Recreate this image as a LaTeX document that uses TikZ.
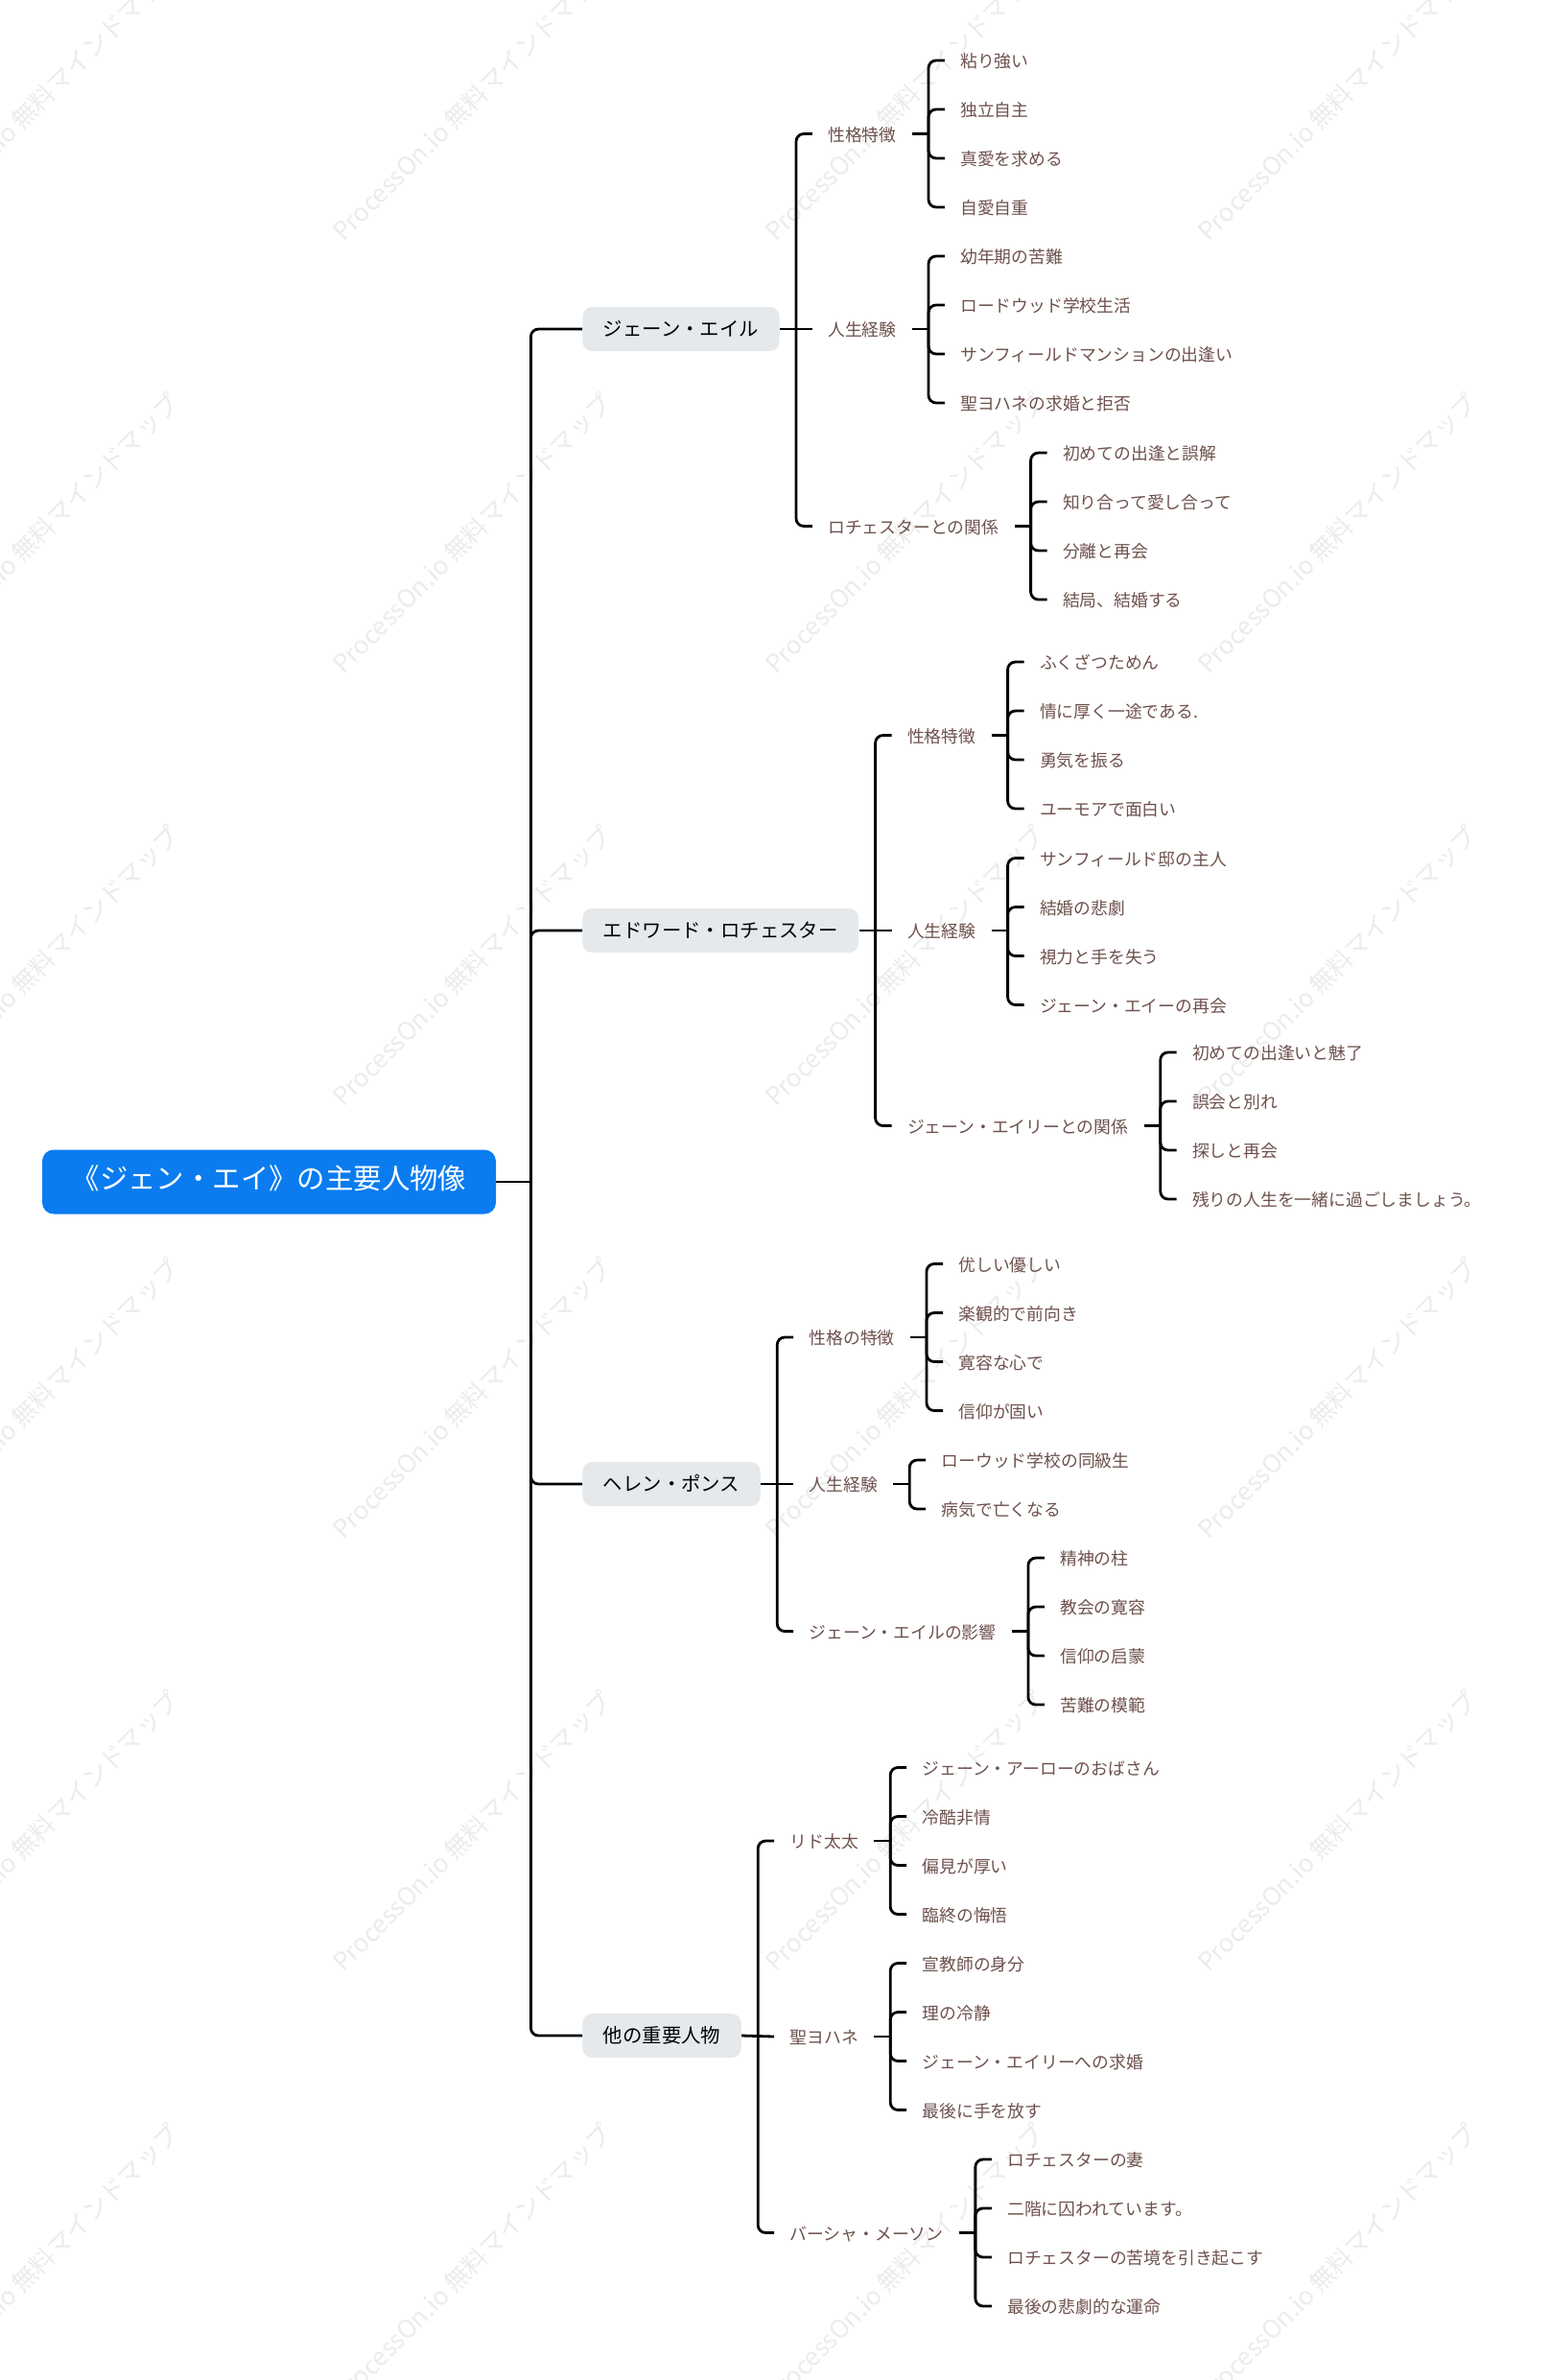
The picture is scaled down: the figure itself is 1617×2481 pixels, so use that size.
\documentclass[tikz,border=0pt]{standalone}
\usepackage{fontspec}
\setmainfont{Noto Sans CJK JP}
\usetikzlibrary{calc}
\definecolor{rootblue}{RGB}{10,124,240}
\definecolor{boxgray}{RGB}{230,233,236}
\definecolor{leafbrown}{RGB}{110,81,77}
\definecolor{wmgray}{RGB}{236,236,236}
\tikzset{
 rootnode/.style={fill=rootblue, rounded corners=6pt, text=white, font=\fontsize{14.7pt}{16pt}\selectfont, minimum width=236.5pt, minimum height=33.5pt, inner sep=0pt, text height=0.88em, text depth=0.12em},
 topicnode/.style={fill=boxgray, rounded corners=5pt, text=black, font=\fontsize{10.2pt}{12pt}\selectfont, minimum height=23pt, inner xsep=10.75pt, inner ysep=0pt, text height=0.88em, text depth=0.12em, anchor=west},
 leafnode/.style={text=leafbrown, font=\fontsize{8.9pt}{10pt}\selectfont, inner xsep=8pt, inner ysep=2pt, text height=0.88em, text depth=0.12em, anchor=west},
 conn/.style={draw=black, line width=1.4pt, rounded corners=4pt},
 wm/.style={text=wmgray, font=\fontsize{13pt}{15pt}\selectfont, rotate=45, anchor=base west, inner sep=0pt},
}
\newcommand{\kid}[4]{\node[leafnode] (#1) at ($(#2.east |- 0,#3)+(34,0)$) {#4};}
\newcommand{\lnk}[2]{\draw[conn] ($(#1.east)+(17,0)$) |- (#2.west);}
\newcommand{\stem}[1]{\draw[conn] (#1.east) -- ++(17,0);}
\newcommand{\straight}[2]{\draw[conn] (#1.east) -- (#2.west);}
\begin{document}
\begin{tikzpicture}[x=0.5pt, y=-0.5pt]
\useasboundingbox (0,0) rectangle (1617,2481);
\fill[white] (0,0) rectangle (1617,2481);
\begin{scope}
\clip (0,0) rectangle (1617,2481);
\foreach \wx [count=\i] in {-93,358,809,1260}
  \foreach \wy [count=\j] in {253,704,1155,1606,2057,2508}
    \node[wm] (wm\i\j) at (\wx,\wy) {ProcessOn.io 無料マインドマップ};
\end{scope}

% root
\node[rootnode] (root) at (280.5,1232) {《ジェン・エイ》の主要人物像};

% level 1
\node[topicnode] (jane) at (607,343) {ジェーン・エイル};
\node[topicnode] (edw) at (607,970) {エドワード・ロチェスター};
\node[topicnode] (helen) at (607,1547) {ヘレン・ポンス};
\node[topicnode] (other) at (607,2122) {他の重要人物};

% trunk
\draw[conn] (root.east) -- ++(36,0);
\draw[conn] ($(root.east)+(36,0)$) |- (jane.west);
\draw[conn] ($(root.east)+(36,0)$) |- (edw.west);
\draw[conn] ($(root.east)+(36,0)$) |- (helen.west);
\draw[conn] ($(root.east)+(36,0)$) |- (other.west);

% ---------- Jane ----------
\kid{j1}{jane}{139.5}{性格特徴}
\kid{j2}{jane}{343}{人生経験}
\kid{j3}{jane}{548.5}{ロチェスターとの関係}
\stem{jane}
\lnk{jane}{j1}
\straight{jane}{j2}
\lnk{jane}{j3}

\kid{j11}{j1}{63}{粘り強い}
\kid{j12}{j1}{114}{独立自主}
\kid{j13}{j1}{165}{真愛を求める}
\kid{j14}{j1}{216}{自愛自重}
\stem{j1}
\lnk{j1}{j11}\lnk{j1}{j12}\lnk{j1}{j13}\lnk{j1}{j14}

\kid{j21}{j2}{267}{幼年期の苦難}
\kid{j22}{j2}{318}{ロードウッド学校生活}
\kid{j23}{j2}{369}{サンフィールドマンションの出逢い}
\kid{j24}{j2}{420}{聖ヨハネの求婚と拒否}
\stem{j2}
\lnk{j2}{j21}\lnk{j2}{j22}\lnk{j2}{j23}\lnk{j2}{j24}

\kid{j31}{j3}{472}{初めての出逢と誤解}
\kid{j32}{j3}{523}{知り合って愛し合って}
\kid{j33}{j3}{574}{分離と再会}
\kid{j34}{j3}{625}{結局、結婚する}
\stem{j3}
\lnk{j3}{j31}\lnk{j3}{j32}\lnk{j3}{j33}\lnk{j3}{j34}

% ---------- Edward ----------
\kid{e1}{edw}{766.5}{性格特徴}
\kid{e2}{edw}{970}{人生経験}
\kid{e3}{edw}{1173.5}{ジェーン・エイリーとの関係}
\stem{edw}
\lnk{edw}{e1}
\straight{edw}{e2}
\lnk{edw}{e3}

\kid{e11}{e1}{690}{ふくざつためん}
\kid{e12}{e1}{741}{情に厚く一途である.}
\kid{e13}{e1}{792}{勇気を振る}
\kid{e14}{e1}{843}{ユーモアで面白い}
\stem{e1}
\lnk{e1}{e11}\lnk{e1}{e12}\lnk{e1}{e13}\lnk{e1}{e14}

\kid{e21}{e2}{894.5}{サンフィールド邸の主人}
\kid{e22}{e2}{945.5}{結婚の悲劇}
\kid{e23}{e2}{996.5}{視力と手を失う}
\kid{e24}{e2}{1047.5}{ジェーン・エイーの再会}
\stem{e2}
\lnk{e2}{e21}\lnk{e2}{e22}\lnk{e2}{e23}\lnk{e2}{e24}

\kid{e31}{e3}{1097}{初めての出逢いと魅了}
\kid{e32}{e3}{1148}{誤会と別れ}
\kid{e33}{e3}{1199}{探しと再会}
\kid{e34}{e3}{1250}{残りの人生を一緒に過ごしましょう。}
\stem{e3}
\lnk{e3}{e31}\lnk{e3}{e32}\lnk{e3}{e33}\lnk{e3}{e34}

% ---------- Helen ----------
\kid{h1}{helen}{1394}{性格の特徴}
\kid{h2}{helen}{1547}{人生経験}
\kid{h3}{helen}{1700.5}{ジェーン・エイルの影響}
\stem{helen}
\lnk{helen}{h1}
\straight{helen}{h2}
\lnk{helen}{h3}

\kid{h11}{h1}{1317.5}{优しい優しい}
\kid{h12}{h1}{1368.5}{楽観的で前向き}
\kid{h13}{h1}{1419.5}{寛容な心で}
\kid{h14}{h1}{1470.5}{信仰が固い}
\stem{h1}
\lnk{h1}{h11}\lnk{h1}{h12}\lnk{h1}{h13}\lnk{h1}{h14}

\kid{h21}{h2}{1522}{ローウッド学校の同級生}
\kid{h22}{h2}{1573}{病気で亡くなる}
\stem{h2}
\lnk{h2}{h21}\lnk{h2}{h22}

\kid{h31}{h3}{1624}{精神の柱}
\kid{h32}{h3}{1675}{教会の寛容}
\kid{h33}{h3}{1726}{信仰の启蒙}
\kid{h34}{h3}{1777}{苦難の模範}
\stem{h3}
\lnk{h3}{h31}\lnk{h3}{h32}\lnk{h3}{h33}\lnk{h3}{h34}

% ---------- Other ----------
\kid{o1}{other}{1919}{リド太太}
\kid{o2}{other}{2123}{聖ヨハネ}
\kid{o3}{other}{2327.5}{バーシャ・メーソン}
\stem{other}
\lnk{other}{o1}
\straight{other}{o2}
\lnk{other}{o3}

\kid{o11}{o1}{1842.5}{ジェーン・アーローのおばさん}
\kid{o12}{o1}{1893.5}{冷酷非情}
\kid{o13}{o1}{1944.5}{偏見が厚い}
\kid{o14}{o1}{1995.5}{臨終の悔悟}
\stem{o1}
\lnk{o1}{o11}\lnk{o1}{o12}\lnk{o1}{o13}\lnk{o1}{o14}

\kid{o21}{o2}{2046.5}{宣教師の身分}
\kid{o22}{o2}{2097.5}{理の冷静}
\kid{o23}{o2}{2148.5}{ジェーン・エイリーへの求婚}
\kid{o24}{o2}{2199.5}{最後に手を放す}
\stem{o2}
\lnk{o2}{o21}\lnk{o2}{o22}\lnk{o2}{o23}\lnk{o2}{o24}

\kid{o31}{o3}{2251}{ロチェスターの妻}
\kid{o32}{o3}{2302}{二階に囚われています。}
\kid{o33}{o3}{2353}{ロチェスターの苦境を引き起こす}
\kid{o34}{o3}{2404}{最後の悲劇的な運命}
\stem{o3}
\lnk{o3}{o31}\lnk{o3}{o32}\lnk{o3}{o33}\lnk{o3}{o34}
\end{tikzpicture}
\end{document}
